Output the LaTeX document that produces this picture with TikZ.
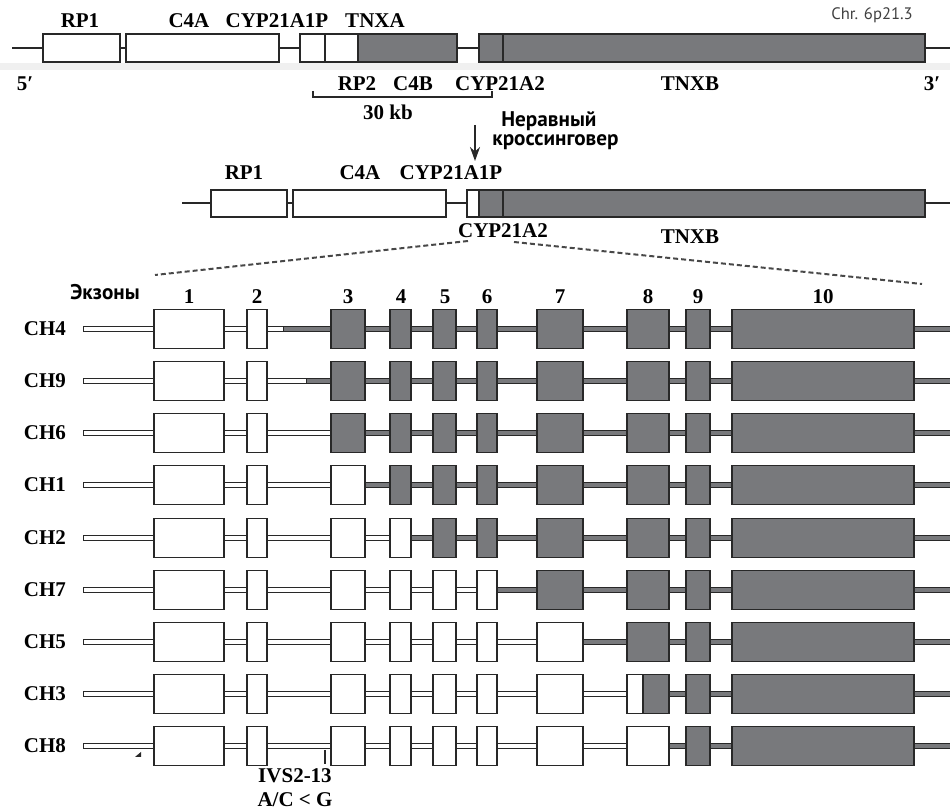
\documentclass[tikz,border=0pt]{standalone}
\usepackage{fontspec}
\setmainfont{Liberation Serif}
\newfontfamily\cyrfont{PT Sans}
\usetikzlibrary{arrows.meta}
\definecolor{genegray}{RGB}{120,121,124}
\definecolor{edgecol}{RGB}{40,40,40}
\begin{document}
\begin{tikzpicture}[x=0.5pt,y=-0.5pt,
  lbl/.style={font=\fontsize{10.5}{12}\selectfont\bfseries, inner sep=0pt},
  cyr/.style={font=\fontsize{10.6}{12}\selectfont\cyrfont\bfseries, inner sep=0pt, anchor=west},
  wbox/.style={draw=edgecol, line width=0.7pt, fill=white},
  gbox/.style={draw=edgecol, line width=0.7pt, fill=genegray},
  chrline/.style={draw=edgecol, line width=1pt},
  zoomline/.style={draw=edgecol!85, line width=1pt, dash pattern=on 2.5pt off 1.5pt}]
  \useasboundingbox (0,0) rectangle (950,812);
  \fill[black!6] (0,63) rectangle (950,70);
  % chromosome 6p21.3, two copies of the module
  \draw[chrline] (12,48) -- (950,48);
  \foreach \a/\b in {43/120, 126/279, 300/325, 325/358} \draw[wbox] (\a,34) rectangle (\b,62);
  \draw[gbox] (358,34) rectangle (457,62);
  \draw[gbox] (479,34) rectangle (925,62);
  \draw[edgecol, line width=1.4pt] (358,34) -- (358,62);
  \draw[edgecol, line width=0.7pt] (503,34) -- (503,62);
  \node[font=\fontsize{8.3}{9}\selectfont\cyrfont, text=black!75, inner sep=0pt] (chr) at (872,15) {Chr. 6p21.3};
  \foreach \nm/\x/\t in {rpa/80/RP1, cfa/189/C4A, cypp/277/CYP21A1P, tnxa/375/TNXA}
    \node[lbl] (\nm) at (\x,21) {\t};
  \foreach \nm/\x/\t in {five/25/5′, rpb/357/RP2, cfb/413/C4B, cypa/500/CYP21A2, tnxb/690/TNXB, three/932/3′}
    \node[lbl] (\nm) at (\x,84) {\t};
  \draw[edgecol, line width=0.8pt] (313,91) -- (313,97) -- (492,97) -- (492,91);
  \node[lbl] (kb) at (388,112) {30 kb};
  % unequal crossing-over
  \coordinate (xs) at (475,125);
  \coordinate (xe) at (475,161);
  \draw[edgecol, line width=1pt, -{Stealth[length=7pt,width=5pt]}] (xs) -- (xe);
  \node[cyr] (uneq) at (501,121) {Неравный};
  \node[cyr] (cross) at (492,142) {кроссинговер};
  % recombined chromosome
  \draw[chrline] (182,203) -- (950,203);
  \foreach \a/\b in {211/287, 293/446, 467/479} \draw[wbox] (\a,190) rectangle (\b,217);
  \draw[gbox] (479,190) rectangle (925,217);
  \draw[edgecol, line width=0.7pt] (503,190) -- (503,217);
  \foreach \nm/\x/\t in {rpc/244/RP1, cfc/360/C4A, cypq/451/CYP21A1P}
    \node[lbl] (\nm) at (\x,173) {\t};
  \node[lbl] (cypb) at (503,231) {CYP21A2};
  \node[lbl] (tnxc) at (690,237) {TNXB};
  \draw[zoomline] (468,241) -- (155,275);
  \draw[zoomline] (514,242) -- (922,284);
  % exon maps
  \node[cyr, anchor=center] (exons) at (105,292) {Экзоны};
  \foreach \i/\x in {1/189, 2/257, 3/348, 4/401, 5/445, 6/487, 7/560, 8/648, 9/698, 10/823}
    \node[lbl] (ex\i) at (\x,297) {\i};
  \foreach \n/\y/\k/\sw/\sp in {CH4/329/2/283/0, CH9/381/2/306/0, CH6/433/2/331/0,
      CH1/485/3/365/0, CH2/538/4/411/0, CH7/590/6/497/0, CH5/642/7/583/0,
      CH3/694/7/627/643, CH8/746/8/669/0} {
    \node[lbl] (\n) at (45,\y) {\n};
    \draw[wbox, line width=0.5pt] (83,\y-2.5) rectangle (953,\y+2.5);
    \draw[gbox, line width=0.5pt] (\sw,\y-2.5) rectangle (953,\y+2.5);
    \foreach \i/\a/\b in {1/154/224, 2/247/267, 3/331/365, 4/390/411, 5/433/456,
        6/477/497, 7/537/583, 8/627/669, 9/686/710, 10/732/914} {
      \ifnum\i>\k \def\st{gbox}\else\def\st{wbox}\fi
      \draw[\st] (\a,\y-19.5) rectangle (\b,\y+19.5);
    }
    \ifnum\sp>0 \draw[wbox] (627,\y-19.5) rectangle (\sp,\y+19.5); \fi
  }
  \fill[edgecol] (135,757) -- (141,757) -- (141,752) -- cycle;
  \draw[edgecol, line width=1pt] (325,750) -- (325,764);
  \node[lbl] (ivs) at (295,776) {IVS2-13};
  \node[lbl] (acg) at (295,800) {A/C < G};
\end{tikzpicture}
\end{document}
